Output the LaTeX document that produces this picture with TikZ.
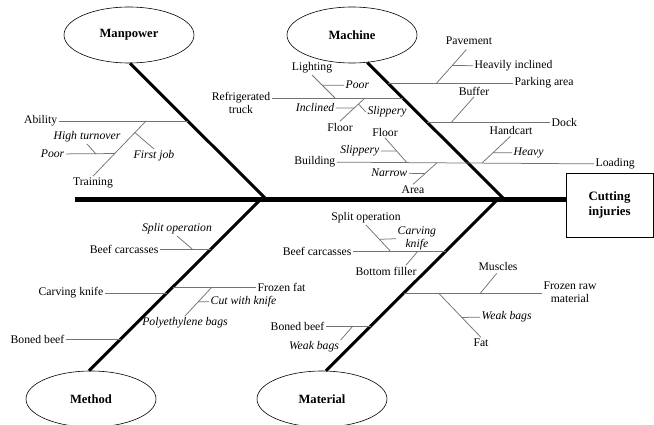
\documentclass[tikz,border=0pt]{standalone}
\usepackage{fontspec}
\setmainfont{Liberation Serif}
\usetikzlibrary{shapes.geometric}
\usetikzlibrary{positioning}
\tikzset{
  lbl/.style={font=\fontsize{11.7}{13}\selectfont, inner sep=1.5pt},
  note/.style={lbl, font=\fontsize{11.7}{13}\selectfont\itshape},
  cause/.style={draw, ellipse, fill=white, line width=0.6pt, minimum width=130pt, minimum height=56pt, inner sep=0pt, font=\fontsize{12.6}{14}\selectfont\bfseries},
  bone/.style={line width=3pt},
  spine/.style={line width=5pt},
  twig/.style={draw=black!55, line width=0.75pt},
}

\begin{document}
\begin{tikzpicture}[x=1pt,y=-1pt]
  \useasboundingbox (0,0) rectangle (654,425);

  % effect and spine
  \node [draw, line width=0.7pt, minimum width=87pt, minimum height=64pt, align=center,
    font=\fontsize{12.8}{15}\selectfont\bfseries] (injury) at (609.5,205) {Cutting\\injuries};
  \coordinate (tail) at (75,200);
  \draw [spine] (tail) -- (tail -| injury.west);

  % the four causes
  \node [cause] (manpower) at (129,35) {Manpower};
  \node [cause] (machine) at (352,35) {Machine};
  \node [cause] (method) at (91,399) {Method};
  \node [cause] (material) at (322,399) {Material};

  \coordinate (mp-root) at (267,200);
  \coordinate (mc-root) at (505,200);
  \coordinate (me-root) at (260,200);
  \coordinate (ma-root) at (497,200);
  \draw [bone] (manpower.-88) -- (mp-root);
  \draw [bone] (machine.-61) -- (mc-root);
  \draw [bone] (method.94) -- (me-root);
  \draw [bone] (material.82) -- (ma-root);

  % manpower
  \node [lbl, anchor=east] (ability) at (59,121) {Ability};
  \coordinate (ab-b) at (188,121);
  \draw [twig] (ability) -- (ab-b);
  \coordinate (tr-j) at (146,121);
  \node [lbl] (training) at (93,183) {Training};
  \draw [twig] (tr-j) -- coordinate[pos=0.21] (fj-j) coordinate[pos=0.59] (po-j) (training.north);
  \node [note] (firstjob) at (154,156) {First job};
  \draw [twig] (fj-j) -- (firstjob.north);
  \node [note, anchor=east] (poor1) at (66,154) {Poor};
  \draw [twig] (poor1) -- (po-j);
  \node [note] (turnover) at (87,137) {High turnover};
  \coordinate (ht-j) at (96,154);
  \draw [twig] (turnover.south) -- (ht-j);

  % machine
  \node [lbl, align=center] (truck) at (241,102.5) {Refrigerated\\truck};
  \coordinate (rt-b) at (403,98);
  \coordinate (lt-j) at (335,98);
  \coordinate (fl-j) at (365,98);
  \draw [twig] (rt-b) -- (rt-b -| truck.east);
  \node [lbl] (lighting) at (312,68) {Lighting};
  \draw [twig] (lighting.south) -- coordinate[pos=0.45] (pr-j) (lt-j);
  \node [note, anchor=west] (poor2) at (344,85) {Poor};
  \draw [twig] (pr-j) -- (poor2);
  \node [lbl] (floor1) at (340,127) {Floor};
  \draw [twig] (fl-j) -- coordinate[pos=0.26] (sl-j) coordinate[pos=0.43] (in-j) (floor1.north);
  \node [note, anchor=east] (inclined) at (336,108) {Inclined};
  \draw [twig] (inclined) -- (in-j);
  \node [note] (slippery1) at (387,112) {Slippery};
  \draw [twig] (sl-j) -- (slippery1.west);

  \coordinate (pk-b) at (388,83);
  \node [lbl, anchor=west] (parking) at (513,83) {Parking area};
  \draw [twig] (pk-b) -- coordinate[pos=0.39] (pv-j) (parking);
  \node [lbl] (pavement) at (469,41) {Pavement};
  \draw [twig, shorten >=4pt] (pv-j) -- coordinate[pos=0.48] (hi-j) (pavement.south);
  \node [lbl, anchor=west] (heavyinc) at (473,66) {Heavily inclined};
  \draw [twig] (hi-j) -- (heavyinc);

  \coordinate (dk-b) at (427,122);
  \node [lbl, anchor=west] (dock) at (550,122) {Dock};
  \draw [twig] (dk-b) -- coordinate[pos=0.2] (bf-j) (dock);
  \node [lbl] (buffer) at (474,91) {Buffer};
  \draw [twig] (bf-j) -- (buffer.south);

  \node [lbl, anchor=east] (building) at (337,162) {Building};
  \node [lbl, anchor=west] (loading) at (594,164) {Loading};
  \draw [twig] (building) -- coordinate[pos=0.272] (fl2-j) coordinate[pos=0.389] (ar-j)
    coordinate[pos=0.564] (hc-j) (loading);
  \node [lbl] (floor2) at (385,132) {Floor};
  \draw [twig] (floor2.south) -- coordinate[pos=0.53] (sl2-j) (fl2-j);
  \node [note, anchor=east] (slippery2) at (381,151) {Slippery};
  \draw [twig] (slippery2) -- (sl2-j);
  \node [lbl] (area) at (413,190) {Area};
  \draw [twig] (ar-j) -- coordinate[pos=0.5] (nw-j) (area.north);
  \node [note, anchor=east] (narrow) at (409,173) {Narrow};
  \draw [twig] (narrow) -- (nw-j);
  \node [lbl] (handcart) at (511,130) {Handcart};
  \draw [twig, shorten >=1pt] (hc-j) -- coordinate[pos=0.38] (hv-j) (handcart.south);
  \node [note, anchor=west] (heavy) at (512,153) {Heavy};
  \draw [twig] (hv-j) -- (heavy);

  % method
  \coordinate (bc-b) at (211,249);
  \node [lbl, anchor=east] (beef1) at (160,249) {Beef carcasses};
  \draw [twig] (beef1) -- coordinate[pos=0.63] (so-j) (bc-b);
  \node [note] (split1) at (177,229) {Split operation};
  \draw [twig] (split1.south) -- (so-j);
  \coordinate (ck-b) at (167,293);
  \node [lbl, anchor=east] (carving1) at (105,293) {Carving knife};
  \draw [twig] (carving1) -- (ck-b);
  \coordinate (ff-b) at (173,287);
  \node [lbl, anchor=west] (frozenfat) at (256,287) {Frozen fat};
  \draw [twig] (ff-b) -- coordinate[pos=0.47] (pb-j) (frozenfat);
  \node [note] (polybags) at (185,323) {Polyethylene bags};
  \draw [twig] (pb-j) -- coordinate[pos=0.51] (cw-j) (polybags.north);
  \node [note, anchor=west] (cutknife) at (209,302) {Cut with knife};
  \draw [twig] (cw-j) -- (cutknife);
  \coordinate (bb-b) at (121,339);
  \node [lbl, anchor=east] (boned1) at (66,339) {Boned beef};
  \draw [twig] (boned1) -- (bb-b);

  % material
  \coordinate (bc2-b) at (446,251);
  \node [lbl, anchor=east] (beef2) at (353,251) {Beef carcasses};
  \draw [twig] (beef2) -- coordinate[pos=0.40] (so2-j) coordinate[pos=0.70] (bf2-j) (bc2-b);
  \node [lbl] (split2) at (366,218) {Split operation};
  \draw [twig] (split2.south) -- coordinate[pos=0.55] (cv-j) (so2-j);
  \node [note, align=center, anchor=west] (carving2) at (396,238) {Carving\\knife};
  \draw [twig] (cv-j) -- (carving2);
  \node [lbl] (filler) at (386,271) {Bottom filler};
  \draw [twig] (bf2-j) -- ([xshift=20pt]filler.north);
  \coordinate (fr-b) at (404,293);
  \node [lbl, align=center] (frozenraw) at (570,292) {Frozen raw\\material};
  \draw [twig] (fr-b) -- coordinate[pos=0.25] (fat-j) coordinate[pos=0.555] (mu-j) (fr-b -| frozenraw.west);
  \node [lbl] (muscles) at (498,266) {Muscles};
  \draw [twig, shorten >=2pt] (mu-j) -- (muscles.south);
  \node [lbl] (fat) at (481,343) {Fat};
  \draw [twig] (fat-j) -- coordinate[pos=0.55] (wb-j) (fat.north);
  \node [note, anchor=west] (weakbags1) at (480,317) {Weak bags};
  \draw [twig] (wb-j) -- (weakbags1);
  \coordinate (bb2-b) at (371,326);
  \node [lbl, anchor=east] (boned2) at (326,326) {Boned beef};
  \draw [twig] (boned2) -- coordinate[pos=0.6] (wb2-j) (bb2-b);
  \node [note] (weakbags2) at (314,347) {Weak bags};
  \draw [twig] (wb2-j) -- (weakbags2.north east);
\end{tikzpicture}
\end{document}
